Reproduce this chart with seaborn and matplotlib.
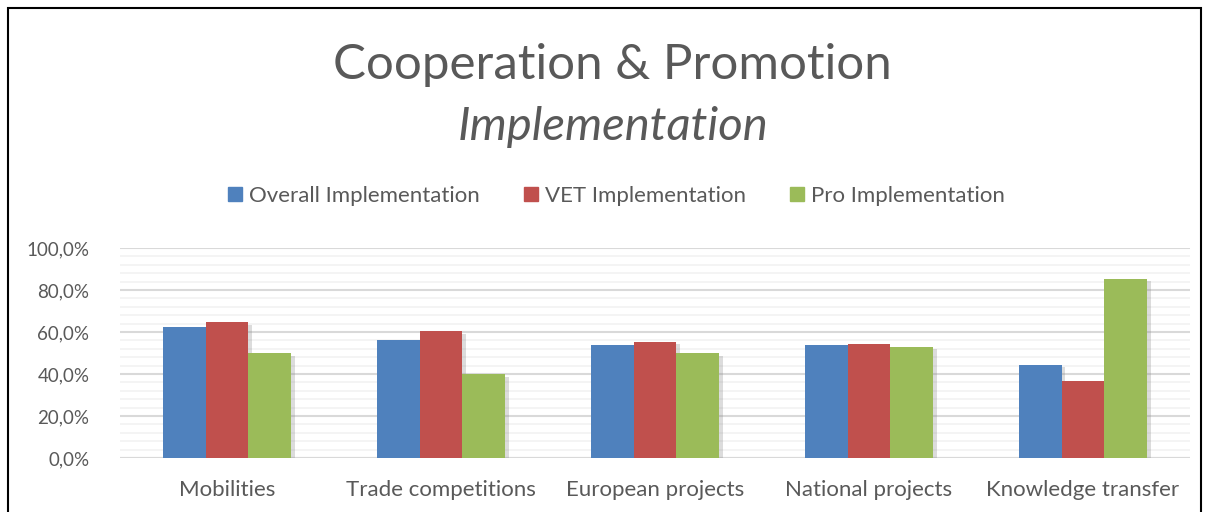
import pandas as pd
import matplotlib
matplotlib.use("Agg")
import matplotlib.pyplot as plt
import matplotlib.patheffects as pe
from matplotlib.ticker import MultipleLocator, FuncFormatter
from matplotlib.patches import Rectangle
import seaborn as sns

categories = ["Mobilities", "Trade competitions", "European projects",
              "National projects", "Knowledge transfer"]
series_names = ["Overall Implementation", "VET Implementation", "Pro Implementation"]
overall = [0.623, 0.560, 0.538, 0.538, 0.445]
vet = [0.646, 0.603, 0.554, 0.541, 0.366]
pro = [0.500, 0.400, 0.500, 0.530, 0.854]
colors = ["#4F81BD", "#C0504D", "#9BBB59"]

df = pd.DataFrame({
    "category": categories * 3,
    "series": [series_names[0]] * 5 + [series_names[1]] * 5 + [series_names[2]] * 5,
    "value": overall + vet + pro,
})

sns.set_style("white")
plt.rcParams["font.family"] = ["Lato", "DejaVu Sans"]
text_col = "#595959"

fig = plt.figure(figsize=(12.06, 5.12), dpi=100)
ax = fig.add_axes([120 / 1206, 1 - 458 / 512, 1070 / 1206, 210 / 512])

sns.barplot(data=df, x="category", y="value", hue="series", order=categories,
            hue_order=series_names, palette=colors, width=0.6, saturation=1,
            linewidth=0, legend=False, ax=ax, zorder=3)

# soft excel-like shadow
for bar in ax.patches:
    bar.set_path_effects([pe.SimplePatchShadow(offset=(2.5, -2), shadow_rgbFace="#8c8c8c", alpha=0.3),
                          pe.Normal()])

ax.set_ylim(0, 1.0)
ax.set_xlim(-0.5, 4.5)
ax.yaxis.set_major_locator(MultipleLocator(0.2))
ax.yaxis.set_minor_locator(MultipleLocator(0.04))
ax.yaxis.set_major_formatter(FuncFormatter(lambda v, p: f"{v * 100:.1f}%".replace(".", ",")))
ax.grid(axis="y", which="major", color="#D9D9D9", linewidth=1.5, zorder=0)
ax.grid(axis="y", which="minor", color="#F2F2F2", linewidth=1.2, zorder=0)
ax.set_axisbelow(True)
for s in ax.spines.values():
    s.set_visible(False)
ax.axhline(0, color="#D9D9D9", linewidth=1.5, zorder=2)
ax.tick_params(axis="both", which="both", length=0, labelcolor=text_col)
ax.tick_params(axis="y", labelsize=13.5, pad=22)
ax.tick_params(axis="x", labelsize=16, pad=16)
ax.set_xlabel("")
ax.set_ylabel("")

fig.text(0.508, 1 - 65 / 512, "Cooperation & Promotion", ha="center", va="center",
         fontsize=35.5, color=text_col)
fig.text(0.508, 1 - 127 / 512, "Implementation", ha="center", va="center",
         fontsize=34, style="italic", color=text_col)

handles = [Rectangle((0, 0), 1, 1, color=c) for c in colors]
fig.legend(handles, series_names, loc="center", bbox_to_anchor=(0.511, 1 - 196 / 512),
           ncol=3, frameon=False, fontsize=16, labelcolor=text_col,
           handlelength=0.63, handleheight=0.63, handletextpad=0.3, columnspacing=2.0)

fig.add_artist(Rectangle((8 / 1206, -0.05), 1193 / 1206, 1.05 - 8 / 512, transform=fig.transFigure,
                         fill=False, edgecolor="black", linewidth=1.5))

fig.savefig("out.png", dpi=100)
